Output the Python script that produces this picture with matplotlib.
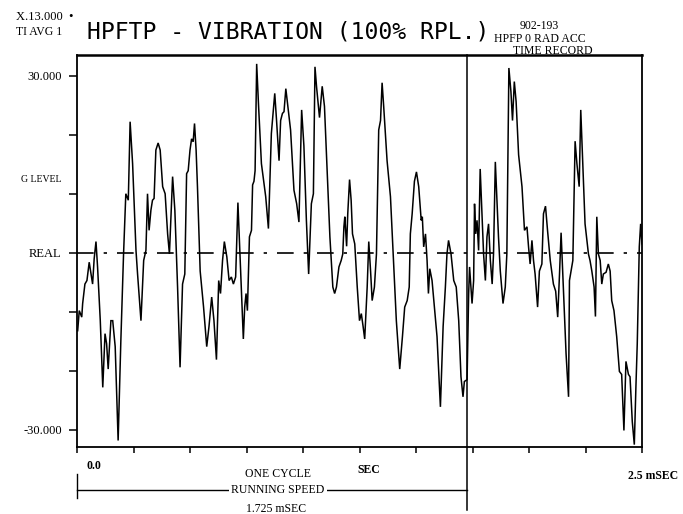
import matplotlib
matplotlib.use("Agg")
import matplotlib.pyplot as plt
import matplotlib.transforms as mtransforms

# time record (ms, G)
t_ms = [0.003, 0.010, 0.021, 0.025, 0.035, 0.044, 0.054, 0.062, 0.069, 0.076,
        0.084, 0.091, 0.103, 0.114, 0.124, 0.131, 0.138, 0.150, 0.158, 0.169,
        0.182, 0.194, 0.206, 0.216, 0.227, 0.235, 0.246, 0.261, 0.268, 0.283,
        0.295, 0.305, 0.312, 0.319, 0.327, 0.334, 0.341, 0.349, 0.359, 0.368,
        0.379, 0.390, 0.401, 0.409, 0.423, 0.433, 0.445, 0.456, 0.467, 0.477,
        0.485, 0.492, 0.500, 0.507, 0.514, 0.520, 0.527, 0.533, 0.545, 0.560,
        0.574, 0.584, 0.596, 0.606, 0.617, 0.627, 0.635, 0.644, 0.652, 0.663,
        0.673, 0.683, 0.692, 0.702, 0.712, 0.721, 0.736, 0.742, 0.748, 0.754,
        0.763, 0.772, 0.777, 0.783, 0.788, 0.795, 0.803, 0.816, 0.835, 0.847,
        0.860, 0.875, 0.883, 0.894, 0.901, 0.909, 0.916, 0.924, 0.933, 0.945,
        0.960, 0.972, 0.982, 0.994, 1.004, 1.015, 1.025, 1.037, 1.046, 1.053,
        1.060, 1.073, 1.085, 1.095, 1.107, 1.119, 1.132, 1.140, 1.148, 1.159,
        1.169, 1.176, 1.181, 1.185, 1.193, 1.198, 1.206, 1.213, 1.219, 1.229,
        1.240, 1.250, 1.258, 1.266, 1.273, 1.284, 1.291, 1.299, 1.306, 1.316,
        1.325, 1.335, 1.343, 1.350, 1.357, 1.372, 1.387, 1.399, 1.413, 1.428,
        1.440, 1.450, 1.461, 1.470, 1.475, 1.483, 1.493, 1.502, 1.512, 1.523,
        1.528, 1.534, 1.542, 1.549, 1.555, 1.561, 1.571, 1.593, 1.608, 1.620,
        1.630, 1.637, 1.644, 1.655, 1.667, 1.678, 1.689, 1.699, 1.708, 1.714,
        1.726, 1.733, 1.737, 1.743, 1.748, 1.755, 1.759, 1.764, 1.770, 1.777,
        1.784, 1.792, 1.799, 1.807, 1.814, 1.821, 1.829, 1.837, 1.843, 1.851,
        1.858, 1.865, 1.873, 1.885, 1.895, 1.902, 1.911, 1.920, 1.927, 1.935,
        1.943, 1.954, 1.969, 1.980, 1.991, 1.998, 2.005, 2.013, 2.020, 2.027,
        2.038, 2.046, 2.057, 2.064, 2.073, 2.082, 2.094, 2.108, 2.118, 2.127,
        2.135, 2.142, 2.152, 2.164, 2.175, 2.179, 2.186, 2.194, 2.204, 2.212,
        2.222, 2.229, 2.235, 2.248, 2.263, 2.270, 2.278, 2.288, 2.294, 2.300,
        2.307, 2.315, 2.322, 2.329, 2.341, 2.351, 2.359, 2.366, 2.376, 2.388,
        2.400, 2.410, 2.420, 2.429, 2.440, 2.447, 2.457, 2.466, 2.473, 2.479,
        2.488, 2.494, 2.500]
g_level = [-13.2, -9.8, -10.9, -8.6, -5.3, -4.7, -1.6, -3.6, -5.3, -1.0,
           1.9, -2.4, -11.5, -22.8, -13.7, -15.4, -19.7, -11.5, -11.5, -15.9,
           -31.8, -14.9, -0.2, 10.0, 8.9, 22.2, 15.1, 0.4, -3.6, -11.5,
           -1.3, 0.4, 10.0, 3.8, 7.2, 8.9, 9.2, 17.4, 18.6, 17.4,
           11.2, 10.0, 3.2, -0.2, 12.9, 7.2, -5.8, -19.4, -5.3, -3.6,
           13.4, 13.9, 17.4, 19.3, 18.8, 21.9, 17.4, 11.2, -3.1, -9.2,
           -15.9, -12.5, -7.5, -11.5, -18.1, -4.7, -6.9, -1.3, 1.9, -0.7,
           -4.7, -4.1, -5.3, -4.1, 8.5, -0.2, -14.6, -9.2, -6.9, -9.8,
           2.7, 3.8, 11.5, 12.1, 13.9, 32.0, 25.2, 15.1, 9.5, 4.1,
           20.2, 27.0, 22.4, 15.6, 22.4, 23.6, 23.9, 27.8, 24.8, 20.8,
           10.6, 8.3, 5.2, 24.2, 18.1, 5.5, -3.6, 8.3, 10.0, 31.5,
           28.1, 22.9, 28.2, 24.8, 13.9, 2.7, -5.8, -6.9, -5.8, -2.4,
           -1.3, -0.2, 4.4, 6.1, 1.1, 6.6, 12.4, 8.9, 3.2, 1.5,
           -5.8, -11.5, -10.3, -12.5, -14.6, -5.8, 1.9, -3.1, -8.1, -5.8,
           -0.2, 20.8, 22.4, 28.8, 24.8, 15.6, 9.5, -0.2, -11.5, -19.7,
           -14.2, -9.2, -8.1, -5.8, 3.2, 6.6, 12.1, 13.7, 11.2, 5.5,
           6.1, 1.0, 3.2, -1.3, -6.9, -2.7, -4.7, -14.2, -26.1, -12.5,
           -5.8, -0.2, 2.1, -0.2, -4.7, -5.8, -11.5, -21.0, -24.4, -21.8,
           -21.5, -6.9, -2.4, -5.8, -8.6, -4.7, 8.3, 3.2, 5.5, 0.4,
           14.2, 6.6, -0.2, -4.7, 2.7, 4.9, -1.3, -5.3, -0.2, 15.4,
           8.9, 2.7, -3.1, -8.6, -5.8, -0.2, 31.3, 27.3, 22.4, 29.0,
           25.6, 16.6, 11.2, 3.8, 4.4, 1.0, -1.9, 2.1, -1.3, -3.6,
           -9.2, -3.1, -1.9, 6.6, 7.9, 3.8, -1.3, -5.3, -6.5, -10.9,
           -3.6, 3.4, -5.8, -17.1, -24.4, -4.7, -3.1, -1.3, 18.9, 15.1,
           11.2, 24.2, 18.1, 4.9, -0.2, -1.3, -3.1, -5.8, -10.8, 6.1,
           -0.2, -1.3, -5.3, -3.6, -3.3, -1.9, -3.1, -8.1, -9.8, -14.2,
           -20.1, -20.6, -30.1, -18.4, -20.6, -21.0, -28.6, -32.5, -22.8, -15.4,
           1.0, 4.9, 1.5]

y_ticks = [-30, -20, -10, 0, 10, 20, 30]
y_tick_labels = ["-30.000", "", "", "REAL", "", "", "30.000"]
x_ticks = [0.0, 0.25, 0.5, 0.75, 1.0, 1.25, 1.5, 1.75, 2.0, 2.25, 2.5]
cycle_ms = 1.725

SERIF = "Liberation Serif"
W, H = 683, 514

fig = plt.figure(figsize=(W / 100, H / 100), dpi=100)
ax = fig.add_axes([77 / W, 1 - 447 / H, 565 / W, 392 / H])

ax.plot(t_ms, g_level, color="black", lw=1.1, solid_joinstyle="miter")
ax.axhline(0.0, color="black", lw=1.2, linestyle=(0, (10, 6, 2, 6)))

ax.set_xlim(0.0, 2.5)
ax.set_ylim(-32.9, 33.5)

for side, sp in ax.spines.items():
    sp.set_linewidth(1.3)
ax.spines["top"].set_linewidth(1.8)

ax.set_yticks(y_ticks)
ax.set_yticklabels(y_tick_labels, family=SERIF, fontsize=9)
ax.set_xticks(x_ticks)
ax.set_xticklabels([])
ax.tick_params(axis="y", direction="out", length=6, width=1.1, pad=5)
ax.tick_params(axis="x", direction="out", length=4, width=1.1)

# cursor at one running-speed cycle
trans = mtransforms.blended_transform_factory(ax.transData, ax.transAxes)
ax.plot([cycle_ms, cycle_ms], [1.0, -0.16], transform=trans, color="black",
        lw=1.1, clip_on=False)

# running speed bracket
ax.plot([0.0, cycle_ms], [-0.11, -0.11], transform=trans, color="black",
        lw=1.0, clip_on=False)
ax.plot([0.0, 0.0], [-0.07, -0.13], transform=trans, color="black",
        lw=1.0, clip_on=False)
ax.text(0.89, -0.11, "RUNNING SPEED", transform=trans, family=SERIF,
        fontsize=8.5, ha="center", va="center",
        bbox=dict(facecolor="white", edgecolor="none", pad=1.5))
ax.text(0.88, -0.158, "1.725 mSEC", transform=trans, family=SERIF,
        fontsize=8.5, ha="center", va="center")

ax.text(0.04, -0.048, "0.0", transform=trans, family=SERIF, fontsize=8.5,
        fontweight="bold", ha="left", va="center")
ax.text(0.89, -0.069, "ONE CYCLE", transform=trans, family=SERIF,
        fontsize=8.5, ha="center", va="center")
ax.text(1.29, -0.059, "SEC", transform=trans, family=SERIF, fontsize=8.5,
        fontweight="bold", ha="center", va="center")
ax.text(2.55, -0.074, "2.5 mSEC", transform=trans, family=SERIF,
        fontsize=8.5, fontweight="bold", ha="center", va="center")

ax.text(-0.027, 12.4, "G LEVEL", transform=mtransforms.blended_transform_factory(
    ax.transAxes, ax.transData), family=SERIF, fontsize=7, ha="right",
    va="center")

# header
fig.text(16 / W, 1 - 17 / H, "X.13.000  \u2022", family=SERIF, fontsize=9,
         ha="left", va="center")
fig.text(16 / W, 1 - 32 / H, "TI AVG 1", family=SERIF, fontsize=8.5,
         ha="left", va="center")
fig.text(87 / W, 1 - 32 / H, "HPFTP - VIBRATION (100% RPL.)",
         family="DejaVu Sans Mono", fontsize=16.6, ha="left", va="center")
fig.text(539 / W, 1 - 26 / H, "902-193", family=SERIF, fontsize=8.5,
         ha="center", va="center")
fig.text(494 / W, 1 - 39 / H, "HPFP 0 RAD ACC", family=SERIF, fontsize=8.5,
         ha="left", va="center")
fig.text(553 / W, 1 - 51 / H, "TIME RECORD", family=SERIF, fontsize=8.5,
         ha="center", va="center")

fig.savefig("out.png", dpi=100)
